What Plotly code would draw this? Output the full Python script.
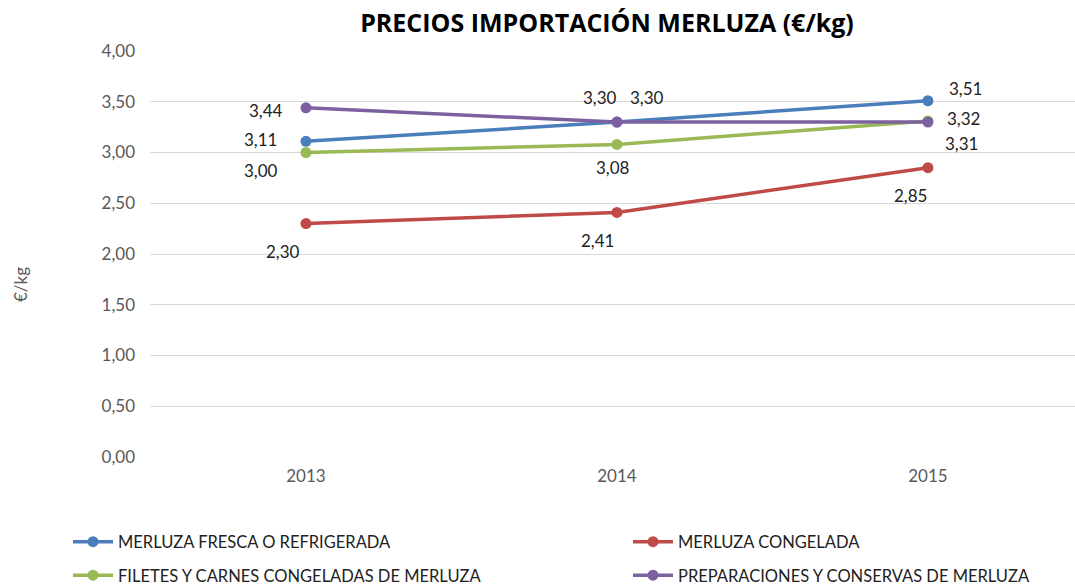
import plotly.graph_objects as go

years = ["2013", "2014", "2015"]
series_names = [
    "MERLUZA FRESCA O REFRIGERADA",
    "MERLUZA CONGELADA",
    "FILETES Y CARNES CONGELADAS DE MERLUZA",
    "PREPARACIONES Y CONSERVAS DE MERLUZA",
]
fresca = [3.11, 3.30, 3.51]
congelada = [2.30, 2.41, 2.85]
filetes = [3.00, 3.08, 3.31]
preparaciones = [3.44, 3.30, 3.32]
colors = ["#4A7EBB", "#BE4B48", "#98B954", "#7D60A0"]

# per-point label pixel offsets (xshift, yshift)
label_offsets = [
    [(-45, 2), (30, 25), (38, 12)],        # fresca
    [(-23, -28), (-19, -28), (-17, -28)],  # congelada
    [(-45, -18), (-4, -23), (34, -22)],    # filetes
    [(-40, -3), (-17, 25), (36, 4)],       # preparaciones
]
values = [fresca, congelada, filetes, preparaciones]
# purple 2015 point sits on the same spot as green in the picture
plot_vals = [fresca, congelada, filetes, [3.44, 3.30, 3.30]]

W, H = 1075, 587
ML, MT, MB = 150, 51, 130
PW, PH = W - ML, H - MT - MB
font = "Lato, 'Open Sans', sans-serif"
fig = go.Figure()
legend_ids = ["legend", "legend2", "legend", "legend2"]
for i, name in enumerate(series_names):
    fig.add_trace(go.Scatter(
        x=years, y=plot_vals[i], name=name, mode="lines+markers",
        line=dict(color=colors[i], width=3.5),
        marker=dict(color=colors[i], size=11),
        legend=legend_ids[i], legendgroup=name,
    ))

for i in range(4):
    for j, yr in enumerate(years):
        dx, dy = label_offsets[i][j]
        fig.add_annotation(
            x=j, y=plot_vals[i][j], xref="x", yref="y",
            text=f"{values[i][j]:.2f}".replace(".", ","),
            showarrow=False, xshift=dx, yshift=dy,
            font=dict(family=font, size=17, color="#222222"),
        )

# y-axis title
fig.add_annotation(x=(20 - ML) / PW, y=(MT + PH - 285) / PH, xref="paper", yref="paper",
                   xanchor="center", yanchor="middle",
                   text="€/kg", textangle=-90, showarrow=False,
                   font=dict(family=font, size=17, color="#595959"))

leg_common = dict(yref="container", xref="container", yanchor="middle", xanchor="left",
                  tracegroupgap=9, itemwidth=40, bgcolor="rgba(0,0,0,0)",
                  font=dict(family=font, size=16.5, color="#222222"))

fig.update_layout(
    width=W, height=H,
    margin=dict(l=ML, r=0, t=MT, b=MB, autoexpand=False),
    plot_bgcolor="white", paper_bgcolor="white",
    title=dict(text="<b>PRECIOS IMPORTACIÓN MERLUZA (€/kg)</b>", x=607 / W, xanchor="center",
               xref="container", yref="container", y=1 - 23 / H, yanchor="middle",
               font=dict(family="'Open Sans', sans-serif", size=25, color="#000000")),
    xaxis=dict(type="category", range=[-0.5016, 2.473], showgrid=False,
               showline=False, zeroline=False, ticks="", ticklabelstandoff=7,
               tickfont=dict(family=font, size=17, color="#595959")),
    yaxis=dict(range=[0, 4], dtick=0.5, tickformat=".2f",
               showgrid=True, gridcolor="#D9D9D9", gridwidth=1, zeroline=False,
               showline=False, ticks="", ticklabelstandoff=14,
               tickfont=dict(family=font, size=17, color="#595959")),
    separators=",.",
    legend=dict(x=68 / W, y=1 - 558.5 / H, **leg_common),
    legend2=dict(x=628 / W, y=1 - 558.5 / H, **leg_common),
    showlegend=True,
)
fig.write_html("out.html", config={"displayModeBar": False},
               post_script="document.body.style.margin='0';")
